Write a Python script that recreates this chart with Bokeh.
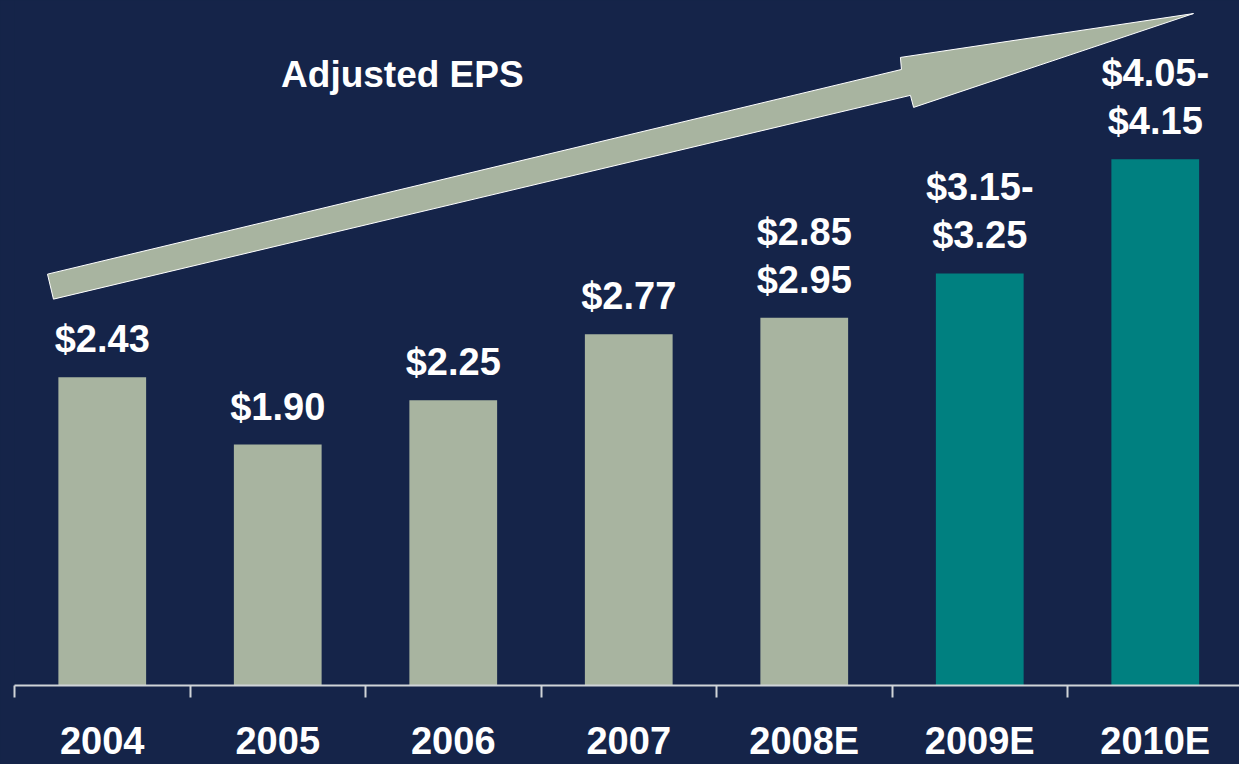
from bokeh.plotting import figure
from bokeh.models import Range1d, FixedTicker, ColumnDataSource, LabelSet, Label
from bokeh.core.properties import value
from bokeh.embed import file_html
from bokeh.resources import INLINE

# ---- data ----
categories = ["2004", "2005", "2006", "2007", "2008E", "2009E", "2010E"]
eps_values = [2.43, 1.90, 2.25, 2.77, 2.90, 3.25, 4.15]
label_upper = ["", "", "", "", "$2.85", "$3.15-", "$4.05-"]
label_lower = ["$2.43", "$1.90", "$2.25", "$2.77", "$2.95", "$3.25", "$4.15"]
is_forecast = [False, False, False, False, False, True, True]
chart_title = "Adjusted EPS"

# ---- style ----
NAVY = "#152449"
SAGE = "#a8b4a0"
TEAL = "#008080"
AXIS = "#d0d4d8"
FONT = "Liberation Sans"

# decorative trend arrow outline (data units)
arrow_x = [0.188, 5.054, 5.048, 6.718, 5.123, 5.105, 0.222]
arrow_y = [3.244, 4.858, 4.953, 5.299, 4.559, 4.654, 3.047]

xs = [i + 0.5 for i in range(len(categories))]
colors = [TEAL if f else SAGE for f in is_forecast]

src = ColumnDataSource(dict(x=xs, eps=eps_values, upper=label_upper,
                            lower=label_lower, color=colors))

p = figure(width=1239, height=764,
           x_range=Range1d(0, 6.98), y_range=Range1d(0, 5.402),
           output_backend="svg", toolbar_location=None,
           y_axis_location=None,
           min_border_left=14, min_border_right=0,
           min_border_top=0, min_border_bottom=78,
           background_fill_color=NAVY, border_fill_color=NAVY,
           outline_line_color=None)
p.grid.visible = False

p.vbar(x="x", top="eps", width=0.5, source=src,
       fill_color="color", line_color=None)

p.patch(arrow_x, arrow_y, fill_color=SAGE, line_color="white", line_width=1)

common = dict(x="x", y="eps", source=src, text_align="center",
              text_baseline="middle", text_font=value(FONT),
              text_font_size=value("38px"), text_font_style="bold",
              text_color="white")
p.add_layout(LabelSet(text="lower", y_offset=38, **common))
p.add_layout(LabelSet(text="upper", y_offset=86, **common))

p.add_layout(Label(x=2.21, y=4.82, text=chart_title, text_align="center",
                   text_baseline="middle", text_font=FONT,
                   text_font_size="37px", text_font_style="bold",
                   text_color="white"))

ax = p.xaxis[0]
ax.ticker = FixedTicker(ticks=xs, minor_ticks=list(range(len(categories) + 1)))
ax.major_label_overrides = {x: c for x, c in zip(xs, categories)}
ax.major_tick_line_color = None
ax.major_tick_in = 0
ax.major_tick_out = 0
ax.minor_tick_in = 0
ax.minor_tick_out = 12
ax.minor_tick_line_color = AXIS
ax.minor_tick_line_width = 2
ax.axis_line_color = AXIS
ax.axis_line_width = 2
ax.major_label_text_font = FONT
ax.major_label_text_font_size = "38px"
ax.major_label_text_font_style = "bold"
ax.major_label_text_color = "white"
ax.major_label_text_line_height = 1.0
ax.major_label_standoff = 22

html = file_html(p, INLINE)
html = html.replace("</head>",
                    "<style>html, body { background-color: %s; }</style></head>" % NAVY, 1)
open("out.html", "w").write(html)
